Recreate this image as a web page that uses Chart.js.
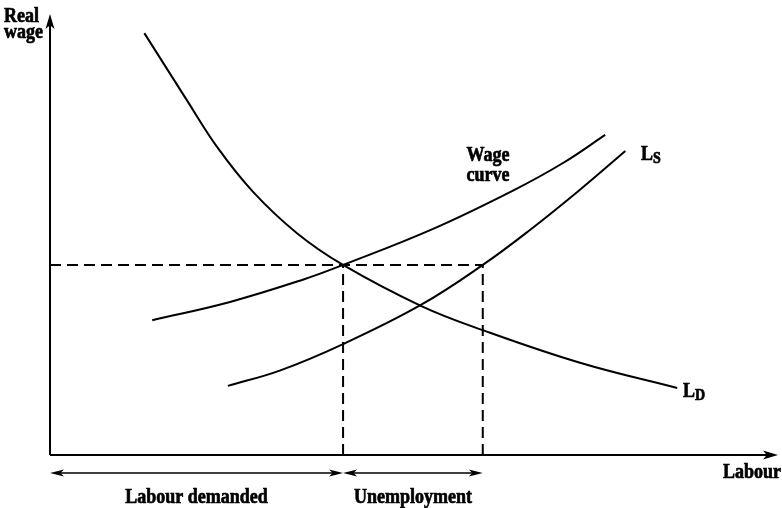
<!DOCTYPE html>
<html>
<head>
<meta charset="utf-8">
<script src="https://cdn.jsdelivr.net/npm/chart.js@4"></script>
<style>
  html, body { margin: 0; padding: 0; background: #fff; }
  canvas { display: block; }
</style>
</head>
<body>
<canvas id="labourChart" width="782" height="508"></canvas>
<script>
// Labour demand curve (L_D)
const ldLabour = [13.1, 19.0, 23.3, 28.2, 34.3, 40.7, 51.5, 60.1, 73.6, 87.1];
const ldWage   = [97.0, 81.6, 70.6, 60.5, 51.0, 43.7, 34.3, 28.7, 21.2, 15.4];

// Wage curve
const wcLabour = [14.2, 25.0, 35.1, 40.7, 53.2, 64.3, 71.3, 77.1];
const wcWage   = [31.0, 35.2, 40.3, 43.7, 52.0, 60.8, 67.2, 73.6];

// Labour supply curve (L_S)
const lsLabour = [24.7, 31.9, 40.7, 51.5, 60.1, 66.7, 73.6, 79.9];
const lsWage   = [15.9, 19.4, 25.5, 34.5, 43.7, 51.8, 61.0, 69.9];

// Equilibrium wage and the two labour quantities at that wage
const realWage = 43.7;
const labourDemanded = 40.7;
const labourSupplied = 60.1;

const toPoints = (xs, ys) => xs.map((x, i) => ({ x: x, y: ys[i] }));

const curveStyle = {
    showLine: true,
    pointRadius: 0,
    borderColor: '#000',
    borderWidth: 2,
    fill: false,
    tension: 0.4
};

const dashStyle = {
    showLine: true,
    pointRadius: 0,
    borderColor: '#000',
    borderWidth: 2,
    borderDash: [11, 6],
    fill: false,
    tension: 0
};

const FONT = '"Liberation Serif", "Times New Roman", serif';

function arrowHead(ctx, x, y, angle, len, half) {
    ctx.save();
    ctx.translate(x, y);
    ctx.rotate(angle);
    ctx.beginPath();
    ctx.moveTo(0, 0);
    ctx.lineTo(-len, -half);
    ctx.lineTo(-len * 0.75, 0);
    ctx.lineTo(-len, half);
    ctx.closePath();
    ctx.fill();
    ctx.restore();
}

// heavy serif text, a little taller than the plain face
function label(ctx, text, x, y, align, size) {
    ctx.save();
    ctx.font = 'bold ' + (size || 18) + 'px ' + FONT;
    ctx.textAlign = align;
    ctx.textBaseline = 'alphabetic';
    ctx.lineWidth = 0.6;
    ctx.translate(x, y);
    ctx.scale(1, 1.18);
    ctx.fillText(text, 0, 0);
    ctx.strokeText(text, 0, 0);
    const w = ctx.measureText(text).width;
    ctx.restore();
    return w;
}

function subLabel(ctx, x, y, main, sub) {
    const w = label(ctx, main, x, y, 'left', 18);
    label(ctx, sub, x + w, y + 3, 'left', 14);
}

// Axes with arrowheads, captions and the bracket arrows below the labour axis
const diagramDecor = {
    id: 'diagramDecor',
    afterDatasetsDraw(chart) {
        const ctx = chart.ctx;
        const xs = chart.scales.x;
        const ys = chart.scales.y;
        const x0 = xs.getPixelForValue(0);
        const y0 = ys.getPixelForValue(0);
        const xEnd = xs.getPixelForValue(xs.max);
        const yEnd = ys.getPixelForValue(ys.max);

        ctx.save();
        ctx.strokeStyle = '#000';
        ctx.fillStyle = '#000';
        ctx.lineWidth = 2;

        ctx.beginPath();
        ctx.moveTo(x0, y0);
        ctx.lineTo(x0, yEnd + 8);
        ctx.moveTo(x0, y0);
        ctx.lineTo(xEnd - 8, y0);
        ctx.stroke();
        arrowHead(ctx, x0, yEnd, -Math.PI / 2, 15, 4.5);
        arrowHead(ctx, xEnd, y0, 0, 15, 4.5);

        // bracket arrows
        const yb = y0 + 18;
        const xa = xs.getPixelForValue(labourDemanded);
        const xb = xs.getPixelForValue(labourSupplied);
        ctx.lineWidth = 1.5;
        ctx.beginPath();
        ctx.moveTo(x0 + 6, yb);
        ctx.lineTo(xa - 6, yb);
        ctx.moveTo(xa + 6, yb);
        ctx.lineTo(xb - 6, yb);
        ctx.stroke();
        arrowHead(ctx, x0, yb, Math.PI, 14, 3.5);
        arrowHead(ctx, xa, yb, 0, 14, 3.5);
        arrowHead(ctx, xa, yb, Math.PI, 14, 3.5);
        arrowHead(ctx, xb, yb, 0, 14, 3.5);

        label(ctx, 'Labour demanded', (x0 + xa) / 2, yb + 30, 'center');
        label(ctx, 'Unemployment', (xa + xb) / 2, yb + 30, 'center');
        label(ctx, 'Labour', 781, y0 + 23, 'right');

        label(ctx, 'Real', 4, 22, 'left');
        label(ctx, 'wage', 4, 38, 'left');

        label(ctx, 'Wage', 488, 161, 'center');
        label(ctx, 'curve', 488, 181, 'center');

        subLabel(ctx, 641, 160, 'L', 'S');
        subLabel(ctx, 683, 397, 'L', 'D');

        ctx.restore();
    }
};

new Chart(document.getElementById('labourChart').getContext('2d'), {
    type: 'scatter',
    data: {
        datasets: [
            Object.assign({ label: 'L_D', data: toPoints(ldLabour, ldWage) }, curveStyle),
            Object.assign({ label: 'Wage curve', data: toPoints(wcLabour, wcWage) }, curveStyle),
            Object.assign({ label: 'L_S', data: toPoints(lsLabour, lsWage) }, curveStyle),
            Object.assign({ label: 'wage level', data: [{ x: 0, y: realWage }, { x: labourSupplied, y: realWage }] }, dashStyle),
            Object.assign({ label: 'demanded', data: [{ x: labourDemanded, y: 0 }, { x: labourDemanded, y: realWage }] }, dashStyle),
            Object.assign({ label: 'supplied', data: [{ x: labourSupplied, y: 0 }, { x: labourSupplied, y: realWage }] }, dashStyle)
        ]
    },
    options: {
        responsive: false,
        animation: false,
        layout: { padding: { left: 50, right: 4, top: 14, bottom: 53 } },
        plugins: {
            legend: { display: false },
            tooltip: { enabled: false }
        },
        scales: {
            x: { type: 'linear', display: false, min: 0, max: 101.1 },
            y: { type: 'linear', display: false, min: 0, max: 101.4 }
        }
    },
    plugins: [diagramDecor]
});
</script>
</body>
</html>
